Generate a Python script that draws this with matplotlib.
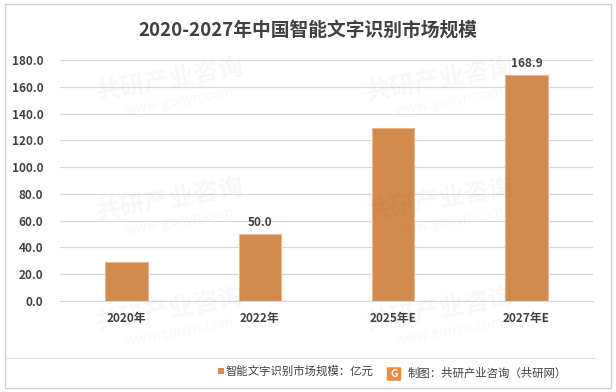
import matplotlib.pyplot as plt
from matplotlib.patches import Rectangle, FancyBboxPatch
import matplotlib.lines as mlines

plt.rcParams['font.family'] = ['Noto Sans CJK SC', 'DejaVu Sans']

categories = ['2020年', '2022年', '2025年E', '2027年E']
values = [29.5, 50.0, 129.5, 168.9]
shown_labels = [None, '50.0', None, '168.9']
yticks = [0, 20, 40, 60, 80, 100, 120, 140, 160, 180]

W, H = 616, 392
fig = plt.figure(figsize=(W/100, H/100), dpi=100)
fig.patch.set_facecolor('white')

# outer border
fig.add_artist(Rectangle((5/W, 4/H), 606/W, 384/H, transform=fig.transFigure,
                         fill=False, edgecolor='#D0D0D0', linewidth=1))

# faint watermark
wm_positions = [(170, 80), (440, 80), (170, 200), (440, 200), (170, 310), (440, 310)]
for (x, y) in wm_positions:
    fig.text(x/W, 1 - y/H, '共研产业咨询', fontsize=18, fontweight='bold', color='#000000',
             alpha=0.03, rotation=10, ha='center', va='center')
    fig.text((x+10)/W, 1 - (y+22)/H, 'www.gonyn.com', fontsize=10, color='#000000',
             alpha=0.03, rotation=10, ha='center', va='center')

ax = fig.add_axes([60/W, 1 - 301/H, 533/W, 241/H])
x = list(range(len(categories)))
ax.bar(x, values, width=0.32, color='#D38B4D', edgecolor='#E8B88E', linewidth=0.8, zorder=3)
ax.set_xlim(-0.5, len(categories) - 0.5)
ax.set_ylim(0, 180)
ax.set_yticks(yticks)
ax.set_yticklabels([f'{v:.1f}' for v in yticks])
ax.set_xticks(x)
ax.set_xticklabels(categories)
ax.grid(axis='y', color='#D9D9D9', linewidth=0.9, zorder=0)
for s in ['top', 'right', 'left']:
    ax.spines[s].set_visible(False)
ax.spines['bottom'].set_color('#D9D9D9')
ax.tick_params(axis='both', length=0, labelsize=8.5, colors='#404040')
ax.tick_params(axis='y', pad=12)
ax.tick_params(axis='x', pad=8)
for lbl in ax.get_xticklabels() + ax.get_yticklabels():
    lbl.set_fontweight('bold')
ax.patch.set_alpha(0)

for xi, v, lab in zip(x, values, shown_labels):
    if lab:
        ax.text(xi, v + 4, lab, ha='center', va='bottom', fontsize=8.5,
                fontweight='bold', color='#404040')

fig.text(308/W, 1 - 30/H, '2020-2027年中国智能文字识别市场规模', ha='center', va='center',
         fontsize=13.5, fontweight='bold', color='#404040')

# separator line
fig.add_artist(mlines.Line2D([5/W, 595/W], [1 - 358/H, 1 - 358/H], transform=fig.transFigure,
                             color='#E0E0E0', linewidth=0.8))

# legend
fig.add_artist(Rectangle((218/W, 1 - 374/H), 6/W, 6/H, transform=fig.transFigure,
                         facecolor='#D38B4D', edgecolor='none'))
fig.text(226/W, 1 - 371/H, '智能文字识别市场规模：亿元', ha='left', va='center',
         fontsize=8.2, color='#404040')

# logo
fig.add_artist(FancyBboxPatch((388/W, 1 - 380/H), 12/W, 12/H, transform=fig.transFigure,
                              boxstyle='round,pad=0.002', facecolor='#F08A3C', edgecolor='none'))
fig.text(394/W, 1 - 374/H, 'G', ha='center', va='center', fontsize=7.5,
         fontweight='bold', color='white')
fig.text(408/W, 1 - 373/H, '制图：共研产业咨询（共研网）', ha='left', va='center',
         fontsize=8.2, color='#404040')

fig.savefig('out.png', dpi=100, facecolor='white')
